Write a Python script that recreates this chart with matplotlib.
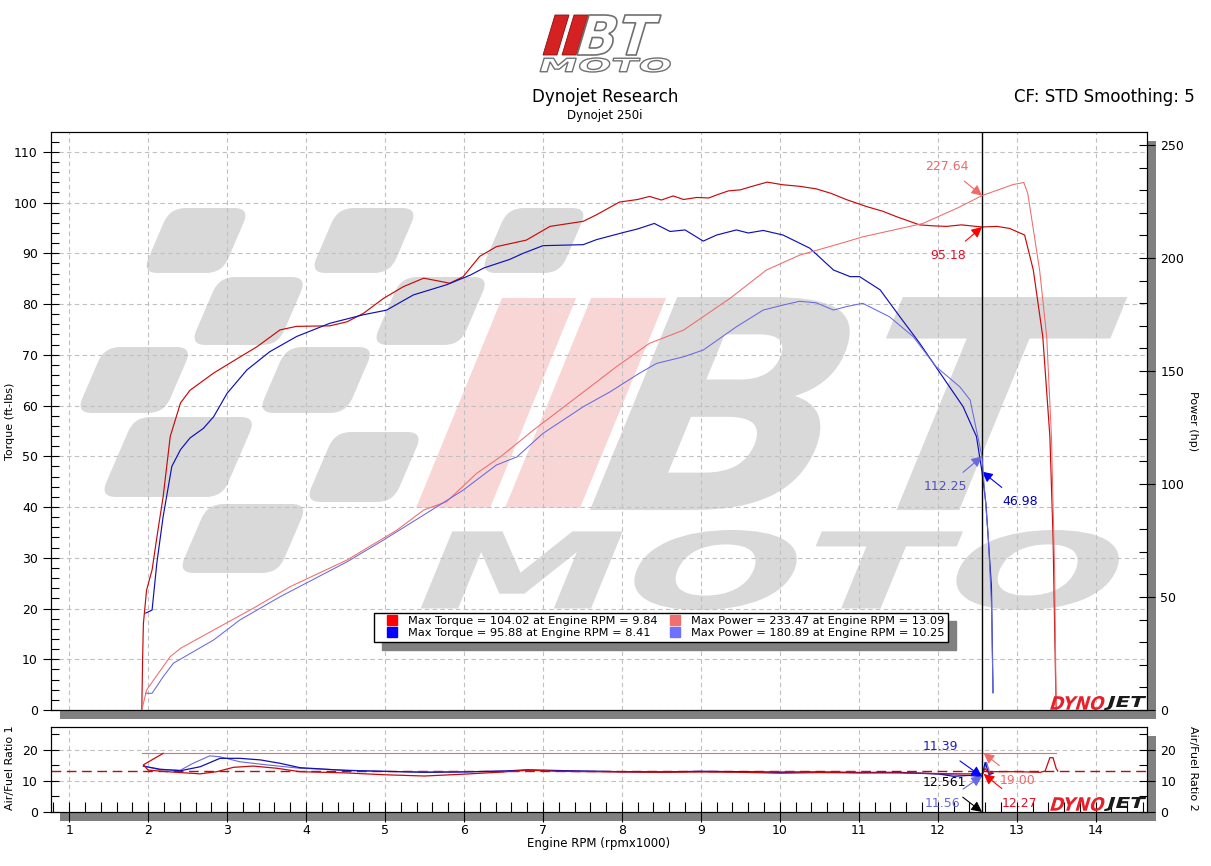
import numpy as np
import matplotlib
matplotlib.use('Agg')
import matplotlib.pyplot as plt
from matplotlib.patches import Polygon, Rectangle, PathPatch
from matplotlib.path import Path
from matplotlib.textpath import TextPath
from matplotlib.font_manager import FontProperties
from matplotlib.transforms import Affine2D
from matplotlib.lines import Line2D
from matplotlib.ticker import MultipleLocator

W, H = 1211, 866

# ---- run 1 (red) ----
rpm_tq1 = [1.92, 1.93, 1.94, 1.98, 2.05, 2.12, 2.19, 2.28, 2.41, 2.53, 2.83, 3.04, 3.38, 3.67,
           3.88, 4.30, 4.52, 4.73, 4.98, 5.23, 5.49, 5.82, 5.99, 6.20, 6.41, 6.79, 7.09, 7.51,
           7.68, 7.97, 8.20, 8.35, 8.50, 8.65, 8.78, 8.95, 9.10, 9.20, 9.35, 9.50, 9.65, 9.84,
           10.04, 10.25, 10.46, 10.65, 10.84, 11.10, 11.30, 11.48, 11.77, 11.95, 12.11, 12.30,
           12.56, 12.75, 12.91, 13.10, 13.21, 13.33, 13.42, 13.46, 13.49, 13.50]
tq1 = [0, 10, 17, 23.6, 27.6, 35, 42, 53.9, 60.5, 63, 66.4, 68.4, 71.6, 74.9,
       75.6, 75.7, 76.5, 78.2, 81.1, 83.4, 85.1, 84.1, 85.4, 89.4, 91.3, 92.6, 95.3, 96.3,
       97.6, 100.1, 100.6, 101.2, 100.5, 101.3, 100.6, 101.0, 100.9, 101.5, 102.3, 102.5, 103.2, 104.02,
       103.5, 103.2, 102.7, 101.8, 100.6, 99.2, 98.3, 97.2, 95.6, 95.4, 95.3, 95.6,
       95.18, 95.3, 94.9, 93.6, 86.7, 73.6, 53.9, 34.2, 7.9, 0]

rpm_pw1 = [1.92, 1.98, 2.07, 2.28, 2.41, 2.83, 3.33, 3.80, 4.52, 5.15, 5.49, 5.78, 6.16, 6.46,
           6.88, 7.38, 7.93, 8.35, 8.78, 9.37, 9.83, 10.25, 10.84, 11.05, 11.81, 12.24, 12.56,
           12.95, 13.09, 13.14, 13.29, 13.38, 13.44, 13.48, 13.50]
pw1 = [0, 8.8, 13.3, 23.6, 27.3, 35.4, 45, 54.6, 66.4, 79.6, 88.5, 92.2, 104.7, 112,
       123.9, 137.2, 151.9, 162.3, 168.1, 182.2, 194.7, 201.3, 207.2, 209.4, 215.3, 222, 227.64,
       232.5, 233.47, 228.6, 194.7, 165.2, 120.9, 61.9, 0]

# ---- run 2 (blue) ----
rpm_tq2 = [1.97, 2.05, 2.11, 2.19, 2.30, 2.41, 2.53, 2.70, 2.83, 3.00, 3.25, 3.54, 3.88, 4.30,
           4.73, 5.02, 5.36, 5.78, 6.08, 6.25, 6.58, 6.75, 7.00, 7.51, 7.68, 8.02, 8.20, 8.41,
           8.61, 8.80, 9.03, 9.20, 9.45, 9.60, 9.79, 10.04, 10.38, 10.68, 10.89, 11.01, 11.27,
           11.52, 11.77, 12.03, 12.32, 12.49, 12.56, 12.61, 12.68, 12.70]
tq2 = [19.1, 19.7, 28.9, 38.1, 48, 51.3, 53.6, 55.5, 57.8, 62.4, 67, 70.6, 73.6, 76.2,
       77.9, 78.8, 81.8, 83.8, 85.7, 87.1, 88.8, 90, 91.5, 91.7, 92.7, 94.1, 94.8, 95.88,
       94.3, 94.6, 92.4, 93.6, 94.6, 94.0, 94.5, 93.6, 91, 86.7, 85.4, 85.4, 82.8,
       77.5, 72.3, 66.4, 59.8, 53.9, 46.98, 40.7, 24.3, 3.4]

rpm_pw2 = [1.97, 2.05, 2.19, 2.32, 2.83, 3.16, 3.67, 4.52, 4.98, 5.49, 5.99, 6.41, 6.67, 7.00,
           7.51, 7.85, 8.22, 8.44, 8.78, 9.03, 9.45, 9.79, 10.04, 10.25, 10.46, 10.68, 10.84,
           11.05, 11.39, 11.69, 11.98, 12.28, 12.41, 12.56, 12.59, 12.64, 12.68, 12.70]
pw2 = [7.4, 7.4, 14.7, 20.7, 31, 39.8, 50.1, 65.6, 75.2, 86.3, 97.3, 108.4, 112, 122.4,
       134.2, 140.8, 149, 153.4, 156.3, 159.3, 169.6, 177, 179.2, 180.89, 180.2, 177, 178.5,
       180, 174, 165.2, 151.9, 143, 137.2, 112.25, 98.8, 76.7, 47.2, 7.7]

# ---- air/fuel ratio ----
rpm_afr1 = [2.19, 1.94, 2.0, 2.24, 2.41, 2.66, 2.87, 3.08, 3.33, 3.63, 3.92, 4.5, 5.0, 5.5, 6.0,
            6.5, 6.8, 7.2, 8.0, 8.5, 9.0, 9.5, 10.0, 10.5, 11.0, 11.5, 12.0, 12.3, 12.5, 12.56,
            12.6, 12.65, 12.7, 13.0, 13.3, 13.36, 13.42, 13.46, 13.5, 13.52]
afr1 = [18.9, 15.2, 13.5, 13.0, 12.7, 12.3, 13.0, 14.4, 14.8, 14.1, 13.0, 12.6, 12.0, 11.6, 12.2,
        12.9, 13.5, 13.1, 12.9, 12.8, 12.9, 12.8, 12.5, 12.7, 12.6, 12.6, 12.4, 12.3, 12.3, 12.27,
        14, 12.5, 13.0, 13.0, 12.8, 13.2, 17.5, 17.5, 14, 13.2]
rpm_afr1b = [1.92, 13.5]
afr1b = [19.0, 19.0]

rpm_afr2 = [1.94, 2.15, 2.41, 2.66, 2.91, 3.16, 3.42, 3.67, 3.92, 4.5, 5.0, 5.5, 6.0, 6.5, 6.8,
            7.5, 8.0, 8.5, 9.0, 9.5, 10.0, 10.5, 11.0, 11.5, 12.0, 12.2, 12.4, 12.56, 12.6,
            12.65, 12.7]
afr2 = [14.8, 13.8, 13.3, 14.6, 17.3, 17.3, 16.8, 15.7, 14.3, 13.4, 13.1, 12.8, 12.9, 13.2, 13.6,
        13.2, 13.0, 12.9, 13.1, 13.0, 12.8, 12.9, 12.7, 12.8, 12.3, 11.5, 11.8, 11.39, 16, 12,
        12.5]
rpm_afr2b = [1.94, 2.15, 2.41, 2.57, 2.78, 2.91, 3.16, 3.50, 3.92, 4.5, 5.0, 5.5, 6.0, 6.5, 7.0,
             7.5, 8.0, 8.5, 9.0, 9.5, 10.0, 10.5, 11.0, 11.5, 12.0, 12.3, 12.56, 12.62, 12.66, 12.7]
afr2b = [14.8, 13.6, 13.5, 15.7, 18.1, 17.8, 16.2, 15.2, 14.1, 13.5, 13.1, 12.9, 13.0, 13.2, 13.4,
         13.2, 13.0, 13.0, 13.1, 13.0, 12.9, 12.9, 12.8, 12.7, 12.2, 11.9, 11.56, 16, 12.5, 12.5]
afr_target = 13.2

cursor_rpm = 12.561

legend_labels = ['Max Torque = 104.02 at Engine RPM = 9.84',
                 'Max Torque = 95.88 at Engine RPM = 8.41',
                 'Max Power = 233.47 at Engine RPM = 13.09',
                 'Max Power = 180.89 at Engine RPM = 10.25']

C_TQ1, C_PW1 = '#c80a0a', '#f06a6a'
C_TQ2, C_PW2 = '#1010b8', '#6868e0'
GRID = '#c0c0c0'
SHADOW = '#808080'


def fx(x):
    return x / W


def fy(y):
    return 1 - y / H


def poly(pts):
    return [(fx(x), fy(y)) for x, y in pts]


def rounded_path(pts, r):
    # closed polygon (pixel coords) with rounded corners, in figure fraction
    pts = np.asarray(pts, float)
    n = len(pts)
    verts, codes = [], []
    for i in range(n):
        p0, p1, p2 = pts[i - 1], pts[i], pts[(i + 1) % n]
        d0 = (p0 - p1) / np.hypot(*(p0 - p1))
        d2 = (p2 - p1) / np.hypot(*(p2 - p1))
        verts += [p1 + d0 * r, p1, p1 + d2 * r]
        codes += [Path.LINETO if i else Path.MOVETO, Path.CURVE3, Path.CURVE3]
    verts.append(verts[0])
    codes.append(Path.CLOSEPOLY)
    v = np.array(verts)
    v[:, 0] = v[:, 0] / W
    v[:, 1] = 1 - v[:, 1] / H
    return Path(v, codes)


fig = plt.figure(figsize=(W / 100, H / 100), dpi=100)
fig.patch.set_facecolor('white')


def fit_text(parent, s, x0, y_top, w, h, slant, fp, **kw):
    # text outline stretched to a pixel box, slanted to the right
    tp = TextPath((0, 0), s, size=10, prop=fp)
    bb = tp.get_extents()
    tr = (Affine2D().translate(-bb.x0, -bb.y0)
          .scale(w / bb.width, h / bb.height)
          .skew(np.arctan(slant), 0)
          .translate(x0, H - y_top - h)
          .scale(1 / W, 1 / H))
    p = PathPatch(tr.transform_path(tp), transform=fig.transFigure, **kw)
    if parent is fig:
        fig.add_artist(p)
    else:
        parent.add_patch(p)
    return p


# axes boxes (pixels)
L, R = 51, 1147
ax = fig.add_axes([fx(L), fy(710), fx(R - L), (710 - 132) / H])
axa = fig.add_axes([fx(L), fy(812), fx(R - L), (812 - 727) / H])

# drop shadows
for top, bot in [(132, 710), (727, 812)]:
    fig.add_artist(Rectangle((fx(L + 9), fy(bot + 9)), fx(R - L), (bot - top) / H,
                             transform=fig.transFigure, facecolor=SHADOW,
                             edgecolor='none', zorder=-1))

# ---- watermark ----
grey_wm = '#d9d9d9'
cells = [  # (bottom-left x, top y, bottom y, width)
    (142, 208, 273, 80), (310, 208, 273, 80), (480, 208, 273, 80),
    (190, 277, 345, 88), (372, 277, 345, 88),
    (76, 347, 413, 88), (258, 347, 413, 88),
    (100, 417, 497, 122), (305, 432, 502, 88),
    (178, 504, 573, 100),
]
for bx, ty, by, w in cells:
    s = 0.43 * (by - ty)
    pts = [(bx, by), (bx + w, by), (bx + w + s, ty), (bx + s, ty)]
    ax.add_patch(PathPatch(rounded_path(pts, 16), transform=fig.transFigure,
                           facecolor=grey_wm, edgecolor='none', zorder=0.1))
for bx, w in [(416, 74), (505, 75)]:
    s = 0.41 * (508 - 298)
    ax.add_patch(Polygon(poly([(bx, 508), (bx + w, 508), (bx + w + s, 298), (bx + s, 298)]),
                         closed=True, transform=fig.transFigure, facecolor='#f8d6d6',
                         edgecolor='none', zorder=0.1))
fp_b = FontProperties(family='DejaVu Sans', weight='bold')
fit_text(ax, 'BT', 590, 297, 450, 213, 0.41, fp_b, facecolor=grey_wm, edgecolor='none', zorder=0.1)
fit_text(ax, 'MOTO', 420, 530, 680, 80, 0.41, fp_b, facecolor=grey_wm, edgecolor='none', zorder=0.1)

# ---- main panel ----
ax2 = ax.twinx()
ax.set_xlim(0.77, 14.65)
ax.set_ylim(0, 113.9)
ax2.set_ylim(0, 255.8)
ax.set_axisbelow(True)
ax.grid(True, color=GRID, linestyle=(0, (4, 3)), linewidth=0.8)

ax.plot(rpm_tq1, tq1, color=C_TQ1, lw=0.85, zorder=2)
ax.plot(rpm_tq2, tq2, color=C_TQ2, lw=0.85, zorder=2)
ax2.plot(rpm_pw1, pw1, color=C_PW1, lw=0.75)
ax2.plot(rpm_pw2, pw2, color=C_PW2, lw=0.75)
ax.axvline(cursor_rpm, color='black', lw=1.0, zorder=3)

ax.yaxis.set_major_locator(MultipleLocator(10))
ax.yaxis.set_minor_locator(MultipleLocator(2))
ax2.yaxis.set_major_locator(MultipleLocator(50))
ax2.yaxis.set_minor_locator(MultipleLocator(10))
ax.xaxis.set_major_locator(MultipleLocator(1))
ax.tick_params(axis='x', which='both', bottom=False, labelbottom=False)
ax.tick_params(axis='y', which='major', direction='inout', length=12, width=0.8, labelsize=9)
ax.tick_params(axis='y', which='minor', direction='in', length=6, width=0.8)
ax2.tick_params(axis='y', which='major', direction='inout', length=12, width=0.8, labelsize=9)
ax2.tick_params(axis='y', which='minor', direction='in', length=6, width=0.8)
ax2.tick_params(axis='x', which='both', bottom=False)

arr = dict(arrowstyle='-|>,head_length=0.7,head_width=0.35', lw=0.8, shrinkA=0, shrinkB=0)
ax2.annotate('227.64', xy=(cursor_rpm, 227.64), xytext=(12.11, 240.5), color=C_PW1,
             fontsize=9, ha='center', va='center',
             arrowprops=dict(arr, color=C_PW1, shrinkA=6))
ax.annotate('95.18', xy=(cursor_rpm, 95.18), xytext=(12.13, 89.5), color='#e0102a',
            fontsize=9, ha='center', va='center',
            arrowprops=dict(arr, color='#ff0000', shrinkA=6))
ax2.annotate('112.25', xy=(cursor_rpm, 112.25), xytext=(12.10, 98.7), color='#5050c0',
             fontsize=9, ha='center', va='center',
             arrowprops=dict(arr, color=C_PW2, shrinkA=6))
ax.annotate('46.98', xy=(cursor_rpm, 46.98), xytext=(13.04, 41.0), color='#0000b0',
            fontsize=9, ha='center', va='center',
            arrowprops=dict(arr, color='#0000ff', shrinkA=6))

handles = [Line2D([], [], ls='none', marker='s', ms=7, color=c)
           for c in ['#ff0000', '#0000ff', '#f07070', '#7070ff']]
leg = ax2.legend(handles, legend_labels, ncol=2, loc='upper left',
                 bbox_to_anchor=(fx(374), fy(613)), bbox_transform=fig.transFigure,
                 fontsize=8.2, frameon=True, fancybox=False, edgecolor='black',
                 framealpha=1, borderpad=0.3, labelspacing=0.15, handlelength=2.6,
                 handletextpad=0.1, columnspacing=0.2, borderaxespad=0,
                 shadow={'ox': 6, 'oy': -6, 'color': SHADOW, 'alpha': 1})
leg.get_frame().set_linewidth(1.0)
leg.set_zorder(10)

# ---- air/fuel panel ----
axa2 = axa.twinx()
axa.set_xlim(0.77, 14.65)
axa.set_ylim(0, 27.4)
axa2.set_ylim(0, 27.4)
axa.set_axisbelow(True)
axa.grid(True, color=GRID, linestyle=(0, (4, 3)), linewidth=0.8)
axa.axhline(afr_target, color='#b01010', lw=1.0, ls=(0, (7, 4)), zorder=1.5)
axa.plot(rpm_afr1b, afr1b, color=C_PW1, lw=0.8)
axa.plot(rpm_afr2b, afr2b, color=C_PW2, lw=0.8)
axa.plot(rpm_afr2, afr2, color=C_TQ2, lw=0.9)
axa.plot(rpm_afr1, afr1, color=C_TQ1, lw=0.9)
axa.axvline(cursor_rpm, color='black', lw=1.0, zorder=3)

axa.xaxis.set_major_locator(MultipleLocator(1))
axa.xaxis.set_minor_locator(MultipleLocator(0.2))
for a in (axa, axa2):
    a.yaxis.set_major_locator(MultipleLocator(10))
    a.yaxis.set_minor_locator(MultipleLocator(5))
    a.tick_params(axis='y', which='major', direction='inout', length=12, width=0.8, labelsize=9)
    a.tick_params(axis='y', which='minor', direction='in', length=6, width=0.8)
axa.tick_params(axis='x', which='major', direction='inout', length=14, width=0.8,
                labelsize=9, pad=2)
axa.tick_params(axis='x', which='minor', direction='in', length=7, width=0.8)
axa2.tick_params(axis='x', which='both', bottom=False)

afs = 9
axa.annotate('11.39', xy=(cursor_rpm, 11.39), xytext=(12.03, 21.0), color='#1a1ad0',
             fontsize=afs, ha='center', va='center',
             arrowprops=dict(arr, color='#0000ff', shrinkA=6))
axa.annotate('12.561', xy=(cursor_rpm, 0.0), xytext=(12.08, 9.4), color='black',
             fontsize=afs, ha='center', va='center',
             arrowprops=dict(arr, color='black', shrinkA=6))
axa.annotate('11.56', xy=(cursor_rpm, 11.56), xytext=(12.06, 2.9), color=C_PW2,
             fontsize=afs, ha='center', va='center',
             arrowprops=dict(arr, color=C_PW2, shrinkA=6))
axa.annotate('19.00', xy=(cursor_rpm + 0.02, 19.0), xytext=(13.01, 10.3), color=C_PW1,
             fontsize=afs, ha='center', va='center',
             arrowprops=dict(arr, color=C_PW1, shrinkA=6))
axa.annotate('12.27', xy=(cursor_rpm + 0.02, 12.27), xytext=(13.04, 2.9), color='#e0102a',
             fontsize=afs, ha='center', va='center',
             arrowprops=dict(arr, color='#ff0000', shrinkA=6))

# Dynojet marks
for bot in (710, 811):
    fit_text(fig, 'DYNO', 1050, bot - 14, 52, 14, 0.3, fp_b, facecolor='#e8202a',
             edgecolor='none', zorder=5)
    fit_text(fig, 'JET', 1104, bot - 14, 38, 14, 0.3, fp_b, facecolor='#1a1a1a',
             edgecolor='none', zorder=5)

# ---- labels ----
fig.text(fx(10), fy(421), 'Torque (ft-lbs)', rotation=90, ha='center', va='center', fontsize=8)
fig.text(fx(1193), fy(421), 'Power (hp)', rotation=270, ha='center', va='center', fontsize=8)
fig.text(fx(10), fy(768), 'Air/Fuel Ratio 1', rotation=90, ha='center', va='center', fontsize=8)
fig.text(fx(1193), fy(768), 'Air/Fuel Ratio 2', rotation=270, ha='center', va='center', fontsize=8)
fig.text(fx(599), fy(843), 'Engine RPM (rpmx1000)', ha='center', va='center', fontsize=8.5)
fig.text(fx(605), fy(97), 'Dynojet Research', ha='center', va='center', fontsize=12)
fig.text(fx(605), fy(116), 'Dynojet 250i', ha='center', va='center', fontsize=8.5)
fig.text(fx(1195), fy(97), 'CF: STD Smoothing: 5', ha='right', va='center', fontsize=12)

# ---- header logo ----
for x_bot, x_top in [(543, 555), (562, 574)]:
    fig.add_artist(Polygon(poly([(x_bot, 55), (x_bot + 14, 55), (x_top + 14, 15), (x_top, 15)]),
                           closed=True, transform=fig.transFigure, facecolor='#d42222',
                           edgecolor='#8a1010', lw=0.6))
fit_text(fig, 'BT', 577, 15, 72, 40, 0.3, fp_b, facecolor='white', edgecolor='#707070', lw=1.2)
fit_text(fig, 'MOTO', 540, 58, 128, 14, 0.3, fp_b, facecolor='white', edgecolor='#707070', lw=1.0)

fig.savefig('out.png', dpi=100)
